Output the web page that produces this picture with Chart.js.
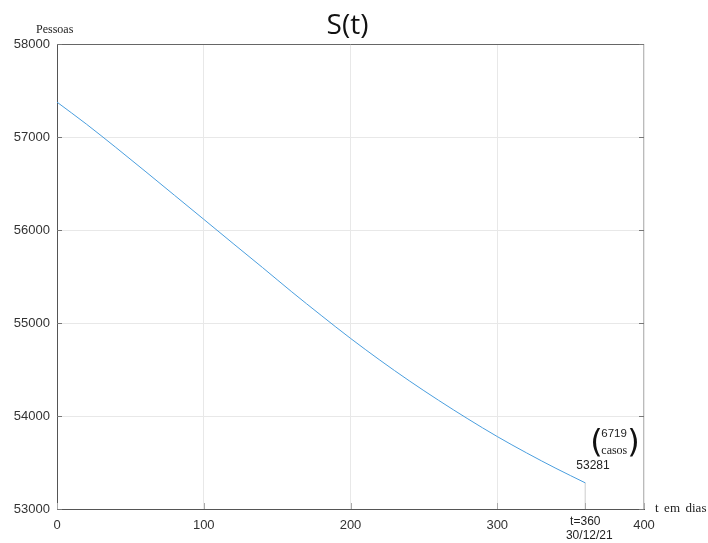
<!DOCTYPE html>
<html>
<head>
<meta charset="utf-8">
<script src="https://cdn.jsdelivr.net/npm/chart.js@4.4.1/dist/chart.umd.min.js"></script>
<style>
  html, body { margin: 0; padding: 0; background: #ffffff; }
  #c { display: block; }
</style>
</head>
<body>
<canvas id="c" width="708" height="543"></canvas>
<script>
// ---- data ----
const days = [0, 20, 40, 60, 80, 100, 120, 140, 160, 180, 200, 220, 240, 260, 280, 300, 320, 340, 360];
const susceptible = [57375, 57139, 56889, 56633, 56374, 56115, 55855, 55597, 55335, 55082, 54835, 54601, 54379, 54169, 53969, 53779, 53603, 53437, 53281];
const xTickValues = [0, 100, 200, 300, 400];
const yTickValues = [53000, 54000, 55000, 56000, 57000, 58000];
const finalDay = 360;
const finalDate = '30/12/21';
const finalValue = 53281;
const newCases = 6719;
const titleText = 'S(t)';
const yAxisTitle = 'Pessoas';
const xAxisTitle = 't em dias';

const sans = '"Liberation Sans", Arial, Helvetica, sans-serif';
const serif = '"Liberation Serif", "Times New Roman", serif';

const annotate = {
  id: 'annotate',
  afterDraw(chart) {
    const ctx = chart.ctx;
    const a = chart.chartArea;
    const xs = chart.scales.x, ys = chart.scales.y;
    ctx.save();
    // top and right frame
    ctx.lineWidth = 1;
    ctx.strokeStyle = '#666';
    ctx.beginPath();
    ctx.moveTo(a.left, a.top + 0.5);
    ctx.lineTo(a.right, a.top + 0.5);
    ctx.stroke();
    ctx.strokeStyle = '#bbb';
    ctx.beginPath();
    ctx.moveTo(a.right - 0.5, a.top);
    ctx.lineTo(a.right - 0.5, a.bottom);
    ctx.stroke();
    // inner ticks
    ctx.strokeStyle = '#777';
    yTickValues.forEach(v => {
      const y = Math.round(ys.getPixelForValue(v)) + 0.5;
      ctx.beginPath(); ctx.moveTo(a.left, y); ctx.lineTo(a.left + 5, y); ctx.stroke();
      ctx.beginPath(); ctx.moveTo(a.right, y); ctx.lineTo(a.right - 5, y); ctx.stroke();
    });
    ctx.strokeStyle = '#aaa';
    xTickValues.concat([finalDay]).forEach(v => {
      const x = Math.round(xs.getPixelForValue(v)) + 0.5;
      ctx.beginPath(); ctx.moveTo(x, a.bottom); ctx.lineTo(x, a.bottom - 6); ctx.stroke();
    });
    // title
    ctx.fillStyle = '#111';
    ctx.font = '28px "Open Sans", "Noto Sans", sans-serif';
    ctx.textAlign = 'center';
    ctx.textBaseline = 'alphabetic';
    ctx.fillText(titleText, (a.left + a.right) / 2 - 3, 34);
    // axis titles
    ctx.font = '12px ' + serif;
    ctx.textAlign = 'left';
    ctx.fillStyle = '#222';
    ctx.fillText(yAxisTitle, 36, 33);
    ctx.font = '13px ' + serif;
    const words = xAxisTitle.split(' ');
    let xx = a.right + 11;
    words.forEach(w => {
      ctx.fillText(w, xx, a.bottom + 3);
      xx += ctx.measureText(w).width + 5.5;
    });
    // t=360 label
    const xf = xs.getPixelForValue(finalDay);
    ctx.font = '12px ' + sans;
    ctx.textAlign = 'center';
    ctx.fillStyle = '#222';
    ctx.textBaseline = 'middle';
    ctx.fillText('t=' + finalDay, xf, a.bottom + 13);
    ctx.fillText(finalDate, xf + 4, a.bottom + 27);
    // final value
    const yf = ys.getPixelForValue(finalValue);
    ctx.textAlign = 'left';
    ctx.fillText(String(finalValue), xf - 9, yf - 17);
    // cases with big parentheses
    ctx.font = '32px "DejaVu Sans", sans-serif';
    ctx.fillStyle = '#111';
    ctx.fillText('(', xf + 5, yf - 39);
    ctx.fillText(')', xf + 42, yf - 39);
    ctx.font = '11.5px ' + sans;
    ctx.fillStyle = '#222';
    ctx.fillText(String(newCases), xf + 16, yf - 49);
    ctx.font = '12px ' + serif;
    ctx.fillText('casos', xf + 16, yf - 32);
    ctx.restore();
  }
};

new Chart(document.getElementById('c'), {
  type: 'scatter',
  data: {
    datasets: [
      {
        data: days.map((d, i) => ({ x: d, y: susceptible[i] })),
        showLine: true,
        borderColor: '#4a9ede',
        borderWidth: 1,
        pointRadius: 0,
        cubicInterpolationMode: 'monotone'
      },
      {
        data: [{ x: finalDay, y: finalValue }, { x: finalDay, y: yTickValues[0] }],
        showLine: true,
        borderColor: '#dcdcdc',
        borderWidth: 1,
        pointRadius: 0
      }
    ]
  },
  options: {
    responsive: false,
    animation: false,
    devicePixelRatio: 1,
    layout: { padding: { top: 44, right: 64, left: 0, bottom: 0 } },
    plugins: { legend: { display: false }, tooltip: { enabled: false }, title: { display: false } },
    scales: {
      x: {
        type: 'linear',
        min: xTickValues[0],
        max: xTickValues[xTickValues.length - 1],
        afterBuildTicks(s) { s.ticks = xTickValues.map(v => ({ value: v })); },
        afterFit(s) { s.height = 34; },
        ticks: { color: '#333', font: { size: 13, family: sans }, padding: 9, callback: v => String(v), maxRotation: 0 },
        grid: { color: '#e8e8e8', drawTicks: false },
        border: { color: '#555' }
      },
      y: {
        type: 'linear',
        min: yTickValues[0],
        max: yTickValues[yTickValues.length - 1],
        afterBuildTicks(s) { s.ticks = yTickValues.map(v => ({ value: v })); },
        afterFit(s) { s.width = 57; },
        ticks: { color: '#333', font: { size: 13, family: sans }, padding: 7, callback: v => String(v) },
        grid: { color: '#e8e8e8', drawTicks: false },
        border: { color: '#555' }
      }
    }
  },
  plugins: [annotate]
});
</script>
</body>
</html>
